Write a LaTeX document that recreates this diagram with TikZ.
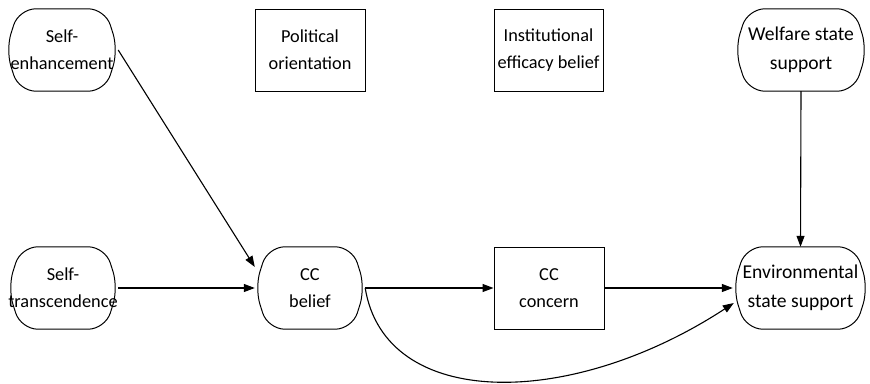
\documentclass[tikz,border=0pt]{standalone}
\usepackage{fontspec}
\setmainfont{Carlito}
\usetikzlibrary{arrows.meta,calc}
\newcommand\roundout[1]{%
  \draw[outline] (#1.north) -- ($(#1.north east)+(-13,0)$) -- (#1.east)
    -- ($(#1.south east)+(-13,0)$) -- ($(#1.south west)+(13,0)$)
    -- (#1.west) -- ($(#1.north west)+(13,0)$) -- cycle;}
\begin{document}
\begin{tikzpicture}[x=1pt,y=-1pt,
  base/.style={inner sep=0pt, align=center, font=\fontsize{18.3}{27}\selectfont},
  big/.style={font=\fontsize{19.6}{28.5}\selectfont},
  rbox/.style={base, draw=none, minimum height=82pt},
  sbox/.style={base, draw, line width=1pt, minimum height=82pt},
  arr/.style={-{Triangle[length=11pt,width=8pt]}, line width=1.1pt},
  outline/.style={line width=1pt, rounded corners=17pt}]
\useasboundingbox (0,0) rectangle (870,383);

\node[rbox, minimum width=112pt] (se) at (62,50) {Self-\\enhancement};
\node[sbox, minimum width=110pt] (po) at (310,50) {Political\\orientation};
\node[sbox, minimum width=109pt] (ie) at (548.5,50) {Institutional\\efficacy belief};
\node[rbox, big, minimum width=132pt] (ws) at (801,50) {Welfare state\\support};

\node[rbox, minimum width=110pt] (st) at (63,288) {Self-\\transcendence};
\node[rbox, minimum width=110pt] (cb) at (310,288) {CC\\belief};
\node[sbox, minimum width=110pt] (cc) at (549,288) {CC\\concern};
\node[rbox, big, minimum width=135pt] (es) at (800.5,288) {Environmental\\state support};

\roundout{se}
\roundout{ws}
\roundout{st}
\roundout{cb}
\roundout{es}

\draw[arr] (se.east) -- ($(cb.west)+(0,-21)$);
\draw[arr] (st.east) -- (cb.west);
\draw[arr] (cb.east) -- (cc.west);
\draw[arr] (cc.east) -- (es.west);
\draw[arr] (ws.south) -- (es.north);
\draw[arr] (cb.east) .. controls (385,410) and (570,410) .. ($(es.west)+(1,15)$);
\end{tikzpicture}
\end{document}
